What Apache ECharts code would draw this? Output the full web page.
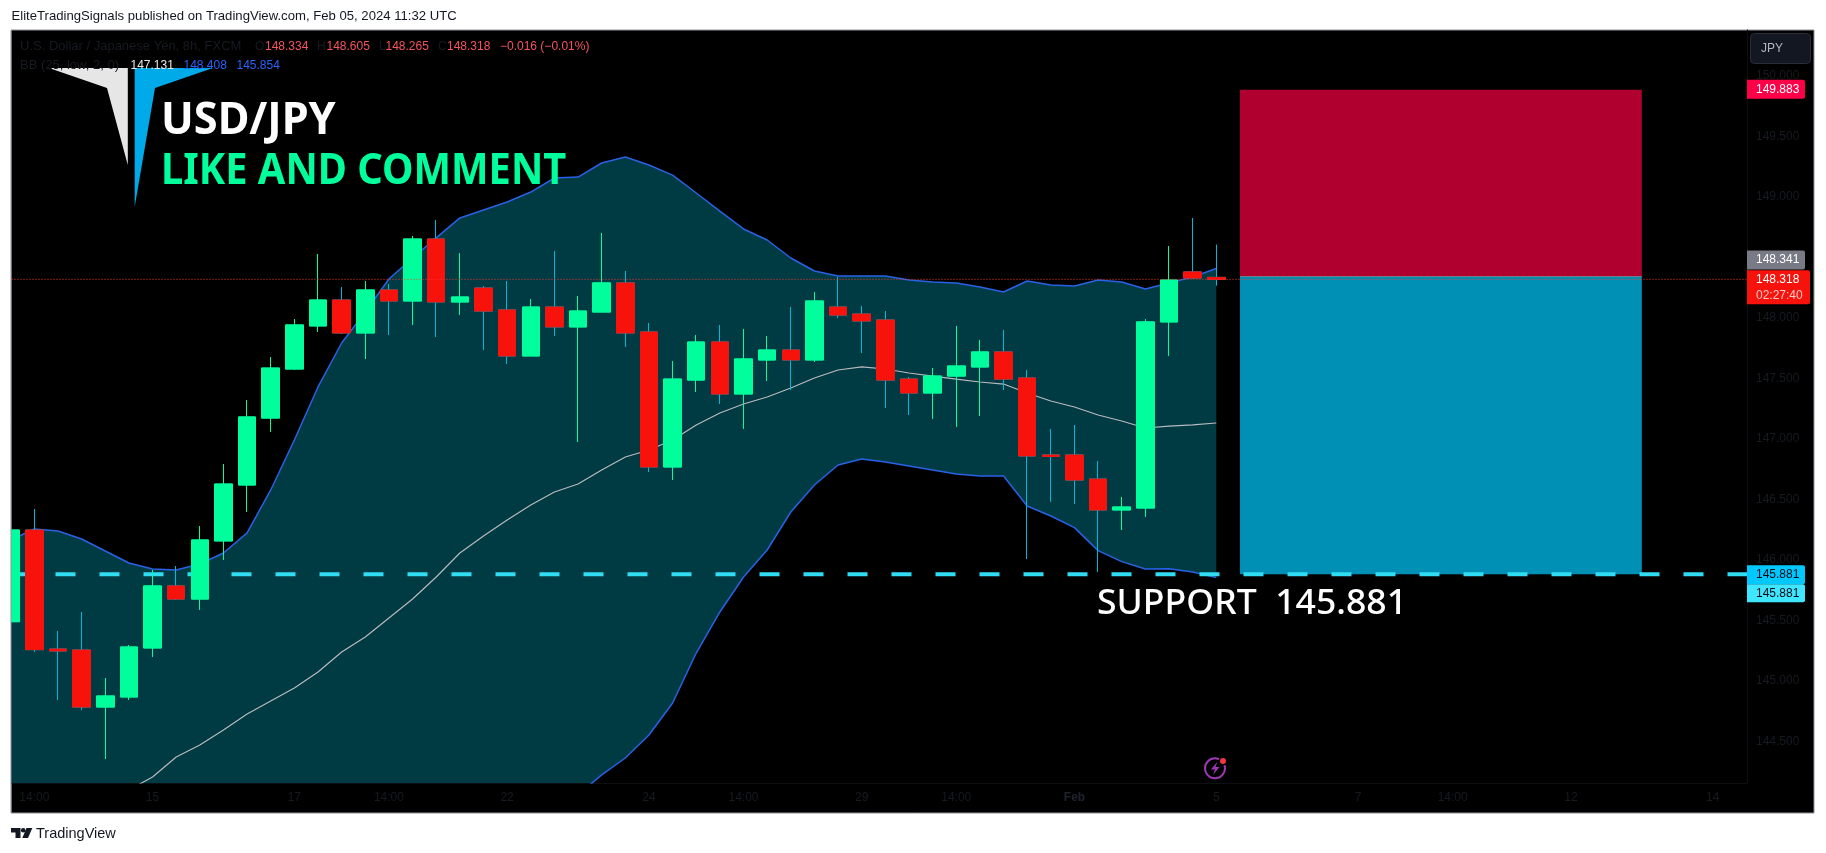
<!DOCTYPE html>
<html>
<head>
<meta charset="utf-8">
<style>html,body{margin:0;padding:0;background:#fff}#c{width:1826px;height:853px}</style>
<script src="https://cdn.jsdelivr.net/npm/echarts@6/dist/echarts.min.js"></script>
</head>
<body>
<div id="c"></div>
<script>
const opens  = [145.490,146.247,145.264,145.256,144.785,144.868,145.273,145.785,145.677,146.157,146.619,147.172,147.577,147.933,148.147,147.875,148.230,148.139,148.651,148.131,148.246,148.065,147.685,148.089,147.925,148.048,148.288,147.883,146.768,147.486,147.800,147.371,147.652,147.734,147.652,148.089,148.031,147.982,147.494,147.379,147.519,147.594,147.718,147.503,146.867,146.867,146.668,146.413,146.429,147.966,148.379,148.334];
const closes = [146.247,145.259,145.248,144.785,144.876,145.281,145.785,145.677,146.165,146.627,147.181,147.585,147.941,148.147,147.875,148.230,148.139,148.651,148.131,148.172,148.056,147.685,148.089,147.925,148.056,148.288,147.875,146.768,147.494,147.800,147.371,147.660,147.734,147.652,148.139,148.023,147.974,147.486,147.379,147.519,147.602,147.718,147.494,146.859,146.855,146.660,146.413,146.437,147.966,148.312,148.329,148.318];
const lows   = [145.215,145.239,144.843,144.760,144.356,144.843,145.198,145.669,145.587,146.000,146.396,147.057,147.569,147.883,147.866,147.660,147.858,147.941,147.841,148.023,147.734,147.619,147.685,147.850,146.974,148.048,147.759,146.726,146.660,147.387,147.288,147.082,147.478,147.404,147.635,147.998,147.709,147.255,147.197,147.164,147.098,147.189,147.404,146.008,146.479,146.462,145.900,146.247,146.355,147.685,148.321,148.265];
const highs  = [146.275,146.421,145.413,145.570,145.025,145.297,145.917,145.950,146.280,146.792,147.321,147.676,147.990,148.527,148.255,148.304,148.279,148.676,148.808,148.535,148.263,148.304,148.155,148.552,148.180,148.701,148.387,147.957,147.643,147.858,147.941,147.908,147.850,148.089,148.213,148.337,148.098,148.056,147.511,147.585,147.933,147.817,147.899,147.569,147.082,147.115,146.817,146.520,147.990,148.593,148.825,148.605];

const bbUpper = [146.165,146.256,146.239,146.173,146.074,145.975,145.925,145.917,145.966,146.057,146.223,146.578,146.991,147.429,147.792,148.048,148.321,148.494,148.660,148.825,148.891,148.957,149.039,149.155,149.163,149.279,149.328,149.262,149.179,149.031,148.882,148.734,148.643,148.494,148.387,148.346,148.346,148.346,148.312,148.296,148.288,148.255,148.213,148.304,148.271,148.263,148.312,148.296,148.238,148.288,148.337,148.408];
const bbBasis = [143.59,143.67,143.75,143.85,143.975,144.10,144.207,144.372,144.471,144.595,144.727,144.835,144.942,145.074,145.239,145.363,145.520,145.677,145.859,146.057,146.198,146.330,146.454,146.561,146.627,146.743,146.850,146.908,146.991,147.115,147.214,147.288,147.346,147.420,147.503,147.569,147.594,147.577,147.544,147.519,147.494,147.470,147.453,147.379,147.313,147.263,147.197,147.148,147.090,147.106,147.115,147.131];
const bbLower = [141.02,141.08,141.26,141.53,141.88,142.23,142.49,142.83,142.98,143.13,143.23,143.09,142.89,142.72,142.69,142.68,142.72,142.86,143.06,143.29,143.51,143.70,143.87,143.97,144.06,144.224,144.364,144.554,144.818,145.231,145.570,145.859,146.082,146.396,146.619,146.784,146.834,146.809,146.776,146.743,146.710,146.693,146.693,146.445,146.363,146.267,146.077,145.986,145.925,145.928,145.900,145.854];

const priceTicks = [144.5,145,145.5,146,146.5,147,147.5,148,148.5,149,149.5,150];
const timeTickBars = [1,6,12,16,21,27,31,36,40,45,51,57,61,66,72];
const timeTickLabels = ['14:00','15','17','14:00','22','24','14:00','29','14:00','Feb','5','7','14:00','12','14'];

const stopPrice = 149.883, entryPrice = 148.341, targetPrice = 145.881, lastPrice = 148.318;
const positionStartBar = 52, positionEndBar = 69;
const tagValues = [149.883,148.341,148.318,145.881,145.881];
const tagLabels = ['149.883','148.341','148.318','145.881','145.881'];

/* style + layout */
const xMin = 0.0338, xMax = 73.45, yMin = 144.1574, yMax = 150.3775;
const faint = '#181a22';
const sans = '"Liberation Sans", Arial, sans-serif';
const tagStyles = [
  {fill:'#ff0048', text:'#ffffff', top:-10, h:19, w:58},
  {fill:'#787b86', text:'#ffffff', top:-26, h:19, w:58},
  {fill:'#f7120c', text:'#ffffff', top:-9,  h:34, w:63, sub:'02:27:40'},
  {fill:'#00c8ff', text:'#0a0a14', top:-9,  h:19, w:58},
  {fill:'#3fe6ff', text:'#0a0a14', top:10,  h:18, w:58}
];

const indices = opens.map((_, i) => i);
const wickData = indices.map(i => [i, opens[i], closes[i], lows[i], highs[i]]);
const bodyData = indices.map(i => [i, opens[i], closes[i], Math.min(opens[i],closes[i]), Math.max(opens[i],closes[i])]);
const toLine = arr => arr.map((v,i) => [i,v]);

function txt(x,y,text,fill,size,extra,sx){
  return {type:'text',z:100,silent:true,x,y,scaleX:sx||1,style:Object.assign({x:0,y:0,text,fill,font:(size||12)+'px '+sans,verticalAlign:'middle',align:'left'},extra||{})};
}
function poly(points,fill,z){return {type:'polygon',z:z||90,silent:true,shape:{points},style:{fill}};}

const graphicEls = [
  {type:'rect',z:-1,silent:true,shape:{x:11,y:30,width:1803,height:783},style:{fill:'#000',stroke:'#8f929b',lineWidth:1}},
  {type:'rect',z:95,silent:true,shape:{x:0,y:30,width:11,height:784},style:{fill:'#fff'}},
  {type:'line',z:96,silent:true,shape:{x1:11,y1:30,x2:11,y2:813},style:{stroke:'#8f929b',lineWidth:1}},
  txt(11.5,16.5,'EliteTradingSignals published on TradingView.com, Feb 05, 2024 11:32 UTC','#131722',13,null,1.01),
  txt(20,46.5,'U.S. Dollar / Japanese Yen, 8h, FXCM',faint,13),
  txt(255,46.5,'O',faint),txt(265,46.5,'148.334','#f7525f'),
  txt(317,46.5,'H',faint),txt(326.5,46.5,'148.605','#f7525f'),
  txt(379,46.5,'L',faint),txt(385.5,46.5,'148.265','#f7525f'),
  txt(438,46.5,'C',faint),txt(447,46.5,'148.318','#f7525f'),
  txt(500,46.5,'\u22120.016 (\u22120.01%)','#f7525f'),
  txt(20,65.5,'BB (25, low, 2, 0)',faint,13),
  txt(130.5,65.5,'147.131','#e8e8e8'),txt(183.5,65.5,'148.408','#2962ff'),txt(236.5,65.5,'145.854','#2962ff'),
  poly([[49,68],[127.8,68],[127.8,165],[107,88]],'#e6e6e6'),
  poly([[134.7,68],[213,68],[155,88],[134.7,207]],'#00a9e8'),
  txt(161,121,'USD/JPY','#ffffff',44,{font:'bold 44px "Noto Sans", sans-serif'},0.985),
  txt(161,172,'LIKE AND COMMENT','#00ff9c',43,{font:'bold 43px "Noto Sans", sans-serif'},0.926),
  txt(1097,604,'SUPPORT  145.881','#ffffff',35,{font:'500 35px "Noto Sans", sans-serif'},1.017),
  {type:'rect',z:100,silent:true,shape:{x:1750.5,y:33.5,width:60,height:30,r:4},style:{fill:'#131722',stroke:'#2a2e39',lineWidth:1}},
  txt(1761,48.5,'JPY','#b2b5be',12),
  {type:'circle',z:100,silent:true,shape:{cx:1215,cy:768.3,r:10},style:{fill:'#000',stroke:'#9c37b5',lineWidth:2}},
  poly([[1217.5,761.5],[1211,769.5],[1215,769.5],[1213,775],[1219.5,767],[1215.5,767]],'#9c37b5',101),
  {type:'circle',z:102,silent:true,shape:{cx:1223,cy:761,r:4.5},style:{fill:'#000'}},
  {type:'circle',z:103,silent:true,shape:{cx:1223,cy:761,r:3},style:{fill:'#f23645'}},
  poly([[11,828],[20.5,828],[20.5,838],[15.5,838],[15.5,832.5],[11,832.5]],'#131722'),
  {type:'circle',z:100,silent:true,shape:{cx:23.2,cy:830.3,r:2.3},style:{fill:'#131722'}},
  poly([[26.5,828],[32.3,828],[28,838],[22.3,838]],'#131722'),
  txt(36,834,'TradingView','#131722',14.5)
];

const chart = echarts.init(document.getElementById('c'), null, {renderer:'canvas', width:1826, height:853});
chart.setOption({
  animation:false,
  backgroundColor:'#ffffff',
  grid:{left:11.5, top:30, right:79, bottom:70, containLabel:false},
  tooltip:{show:false},
  legend:{show:false},
  xAxis:{
    type:'value', min:xMin, max:xMax, splitLine:{show:false},
    axisLine:{show:true,onZero:false,lineStyle:{color:'#0d0f13'}},
    axisTick:{show:false},
    axisLabel:{customValues:timeTickBars, margin:9, fontFamily:'"Liberation Sans"', fontSize:12, color:faint,
      formatter:v => {
        const s = timeTickLabels[timeTickBars.indexOf(v)] || '';
        return s === 'Feb' ? '{b|Feb}' : s;
      },
      rich:{b:{fontFamily:'"Liberation Sans"',fontSize:12,fontWeight:'bold',color:'#20232e'}}}
  },
  yAxis:{
    type:'value', position:'right', min:yMin, max:yMax, splitLine:{show:false},
    axisLine:{show:true,onZero:false,lineStyle:{color:'#0d0f13'}},
    axisTick:{show:false},
    axisLabel:{customValues:priceTicks, margin:9, fontFamily:'"Liberation Sans"', fontSize:12, color:faint,
      formatter:v => v.toFixed(3)}
  },
  series:[
    {type:'custom', name:'BB band', z:1, clip:true, silent:true,
     data:[[0,bbUpper[0],bbLower[0]]], encode:{x:0,y:1},
     renderItem:(p,api)=>{
       const up = bbUpper.map((v,i)=>api.coord([i,v]));
       const lo = bbLower.map((v,i)=>api.coord([i,v])).reverse();
       return {type:'polygon',shape:{points:up.concat(lo)},style:{fill:'#003a42'}};
     }},
    {type:'line', name:'BB basis', z:2, silent:true, symbol:'none', data:toLine(bbBasis), lineStyle:{color:'#b7babf',width:1.2}},
    {type:'line', name:'BB upper', z:2, silent:true, symbol:'none', data:toLine(bbUpper), lineStyle:{color:'#2962e6',width:1.5}},
    {type:'line', name:'BB lower', z:2, silent:true, symbol:'none', data:toLine(bbLower), lineStyle:{color:'#2962e6',width:1.5}},
    {type:'custom', name:'Position', z:3, clip:true, silent:true,
     data:[[positionStartBar,positionEndBar,stopPrice,entryPrice],[positionStartBar,positionEndBar,entryPrice,targetPrice]],
     encode:{x:[0,1],y:[2,3]},
     renderItem:(p,api)=>{
       const a=api.coord([api.value(0),api.value(2)]), b=api.coord([api.value(1),api.value(3)]);
       return {type:'rect',shape:{x:a[0],y:a[1],width:b[0]-a[0],height:b[1]-a[1]},style:{fill:p.dataIndex===0?'#b0002f':'#008fb5'}};
     }},
    {type:'line', name:'Entry', z:4, silent:true, symbol:'none',
     data:[[positionStartBar,entryPrice],[positionEndBar,entryPrice]], lineStyle:{color:'#787b86',width:1}},
    {type:'line', name:'Support', z:4, silent:true, symbol:'none',
     data:[[xMin,targetPrice],[xMax,targetPrice]], lineStyle:{color:'#2fdcf2',width:4,type:[20,24]}},
    {type:'candlestick', name:'Wicks', z:5, silent:true, barWidth:18, data:wickData,
     itemStyle:{color:'#00ff9c',color0:'#f7120c',borderColor:'#00ff9c',borderColor0:'#00b8d9',borderWidth:1}},
    {type:'candlestick', name:'Bodies', z:6, silent:true, barWidth:18, data:bodyData,
     itemStyle:{color:'#00ff9c',color0:'#f7120c',borderColor:'#00ff9c',borderColor0:'#f7120c',borderWidth:1}},
    {type:'line', name:'Last', z:7, silent:true, symbol:'none',
     data:[[xMin,lastPrice],[xMax,lastPrice]], lineStyle:{color:'#ff3a30',width:1,type:[1,2]}},
    {type:'custom', name:'Tags', z:8, clip:false, silent:true,
     data:tagValues.map((v,i)=>[xMax,v,i]), encode:{x:0,y:1},
     renderItem:(p,api)=>{
       const pt=api.coord([api.value(0),api.value(1)]), s=tagStyles[p.dataIndex];
       const children=[{type:'rect',shape:{x:pt[0],y:pt[1]+s.top,width:s.w,height:s.h,r:[0,2,2,0]},style:{fill:s.fill}},
         {type:'text',style:{x:pt[0]+9,y:pt[1]+s.top+9.5,text:tagLabels[p.dataIndex],fill:s.text,font:'12px '+sans,verticalAlign:'middle',align:'left'}}];
       if(s.sub) children.push({type:'text',style:{x:pt[0]+9,y:pt[1]+s.top+25,text:s.sub,fill:'#ffc9c4',font:'12px '+sans,verticalAlign:'middle',align:'left'}});
       return {type:'group',children};
     }}
  ],
  graphic:{elements:graphicEls}
});
</script>
</body>
</html>
